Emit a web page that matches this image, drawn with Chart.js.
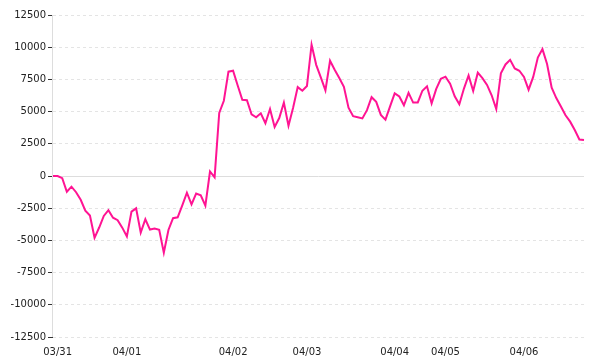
<!DOCTYPE html>
<html>
<head>
<meta charset="utf-8">
<script src="https://cdn.jsdelivr.net/npm/chart.js@4"></script>
<style>
    html, body { margin: 0; padding: 0; background: #fff; }
</style>
</head>
<body>
<canvas id="pnlChart" width="600" height="360"></canvas>
<script>
// cumulative value per sample
const values = [
    0, 0, -170, -1220, -830, -1260, -1850, -2690, -3070, -4800,
    -4000, -3100, -2650, -3240, -3430, -4010, -4700, -2770, -2510, -4400,
    -3360, -4160, -4080, -4180, -5950, -4190, -3280, -3210, -2280, -1300,
    -2200, -1360, -1500, -2300, 350, -100, 4900, 5840, 8100, 8170,
    7030, 5920, 5880, 4790, 4560, 4870, 4100, 5200, 3800, 4500,
    5700, 3900, 5300, 6900, 6620, 6990, 10200, 8630, 7660, 6650,
    8950, 8250, 7610, 6930, 5310, 4640, 4560, 4470, 5110, 6120,
    5760, 4740, 4380, 5410, 6420, 6170, 5490, 6450, 5700, 5710,
    6620, 6960, 5640, 6760, 7550, 7710, 7170, 6190, 5570, 6790,
    7800, 6600, 8020, 7600, 7070, 6270, 5200, 7970, 8660, 9020,
    8350, 8170, 7690, 6700, 7690, 9200, 9850, 8700, 6850, 6050,
    5400, 4710, 4220, 3570, 2830, 2800
];

// day labels and the sample where each day is labelled
const dayLabels = ['03/31', '04/01', '04/02', '04/03', '04/04', '04/05', '04/06'];
const dayIndex = [1, 16, 39, 55, 74, 85, 102];

const yMin = -12500;
const yMax = 12500;
const yStep = 2500;

const labels = values.map(() => '');
dayIndex.forEach((idx, i) => { labels[idx] = dayLabels[i]; });

// solid zero line and solid y axis line, the other grid lines are dashed
const axisLines = {
    id: 'axisLines',
    beforeDatasetsDraw(chart) {
        const area = chart.chartArea;
        const y = Math.round(chart.scales.y.getPixelForValue(0)) + 0.5;
        const x = Math.round(area.left) - 0.5;
        const ctx = chart.ctx;
        ctx.save();
        ctx.strokeStyle = '#dddddd';
        ctx.lineWidth = 1;
        ctx.beginPath();
        ctx.moveTo(area.left, y);
        ctx.lineTo(area.right, y);
        ctx.moveTo(x, area.top);
        ctx.lineTo(x, area.bottom);
        ctx.stroke();
        ctx.restore();
    }
};

const ctx = document.getElementById('pnlChart').getContext('2d');

new Chart(ctx, {
    type: 'line',
    data: {
        labels: labels,
        datasets: [{
            data: values,
            borderColor: '#ff1493',
            borderWidth: 2,
            pointRadius: 0,
            tension: 0,
            fill: false
        }]
    },
    options: {
        responsive: false,
        animation: false,
        layout: { padding: { top: 15, right: 16, bottom: 0, left: 0 } },
        plugins: {
            legend: { display: false },
            tooltip: { enabled: false }
        },
        scales: {
            x: {
                grid: { display: false },
                border: { display: false },
                ticks: {
                    autoSkip: false,
                    maxRotation: 0,
                    padding: 1,
                    color: '#222',
                    font: { family: 'DejaVu Sans', size: 10 }
                },
                afterFit: function (scale) {
                    scale.height = 23;
                }
            },
            y: {
                min: yMin,
                max: yMax,
                grid: {
                    color: function (c) {
                        return c.tick && c.tick.value === 0 ? 'rgba(0,0,0,0)' : '#e4e4e4';
                    },
                    tickColor: '#333',
                    tickLength: 5
                },
                border: { display: false, dash: [3, 3] },
                ticks: {
                    stepSize: yStep,
                    padding: 2,
                    color: '#222',
                    font: { family: 'DejaVu Sans', size: 10 },
                    callback: function (value) {
                        return String(value);
                    }
                },
                afterFit: function (scale) {
                    scale.width = 53;
                }
            }
        }
    },
    plugins: [axisLines]
});
</script>
</body>
</html>
